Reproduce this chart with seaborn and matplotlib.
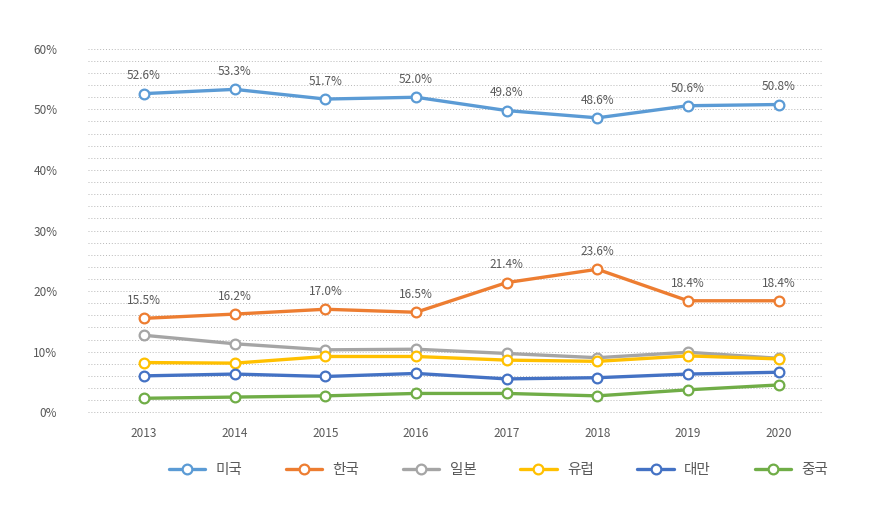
import pandas as pd
import seaborn as sns
import matplotlib.pyplot as plt
from matplotlib.ticker import MultipleLocator, FuncFormatter

# 연도 및 국가별 점유율 (%)
years = [2013, 2014, 2015, 2016, 2017, 2018, 2019, 2020]
countries = ['미국', '한국', '일본', '유럽', '대만', '중국']
usa = [52.6, 53.3, 51.7, 52.0, 49.8, 48.6, 50.6, 50.8]
korea = [15.5, 16.2, 17.0, 16.5, 21.4, 23.6, 18.4, 18.4]
japan = [12.7, 11.3, 10.3, 10.4, 9.7, 9.0, 9.9, 8.9]
europe = [8.2, 8.1, 9.2, 9.2, 8.6, 8.4, 9.3, 8.8]
taiwan = [6.0, 6.3, 5.9, 6.4, 5.5, 5.7, 6.3, 6.6]
china = [2.3, 2.5, 2.7, 3.1, 3.1, 2.7, 3.7, 4.5]
labeled = ['미국', '한국']

colors = ['#5B9BD5', '#ED7D31', '#A5A5A5', '#FFC000', '#4472C4', '#70AD47']
series = [usa, korea, japan, europe, taiwan, china]

rows = []
for name, vals in zip(countries, series):
    for i, (y, v) in enumerate(zip(years, vals)):
        rows.append({'idx': i, 'year': y, 'country': name, 'share': v})
df = pd.DataFrame(rows)

sns.set_style('white')
plt.rcParams['font.family'] = ['Noto Sans CJK KR', 'DejaVu Sans']

fig = plt.figure(figsize=(8.7, 5.19), dpi=100)
ax = fig.add_axes([0.101, 0.204, 0.844, 0.702])

sns.lineplot(data=df, x='idx', y='share', hue='country', hue_order=countries,
             palette=colors, marker='o', markersize=7, markerfacecolor='white',
             markeredgewidth=1.6, linewidth=2.4, ax=ax, zorder=3)

# 마커 테두리 색을 선 색과 맞춤
for line in ax.get_lines():
    line.set_markeredgecolor(line.get_color())
    line.set_clip_on(False)

# 데이터 레이블
for name in labeled:
    sub = df[df['country'] == name]
    for _, r in sub.iterrows():
        ax.annotate(f"{r['share']:.1f}%", (r['idx'], r['share']),
                    xytext=(0, 8), textcoords='offset points',
                    ha='center', va='bottom', fontsize=8.5, color='#595959')

ax.set_ylim(-0.15, 60)
ax.set_xlim(-0.62, 7.48)
ax.yaxis.set_major_locator(MultipleLocator(10))
ax.yaxis.set_minor_locator(MultipleLocator(2))
ax.yaxis.set_major_formatter(FuncFormatter(lambda v, p: f'{v:.0f}%'))
ax.grid(which='both', axis='y', color='#B8B8B8', linestyle=(0, (1, 2)), linewidth=0.7)
ax.tick_params(axis='y', which='both', length=0, labelsize=8.5, labelcolor='#595959', pad=22)
ax.set_xticks(range(len(years)))
ax.set_xticklabels([str(y) for y in years])
ax.tick_params(axis='x', length=0, labelsize=8.5, labelcolor='#595959', pad=10)
ax.set_xlabel('')
ax.set_ylabel('')
for s in ax.spines.values():
    s.set_visible(False)

handles, labels = ax.get_legend_handles_labels()
for h in handles:
    h.set_markeredgecolor(h.get_color())
ax.legend(handles, labels, loc='upper center', bbox_to_anchor=(0.559, -0.1), ncol=6,
          frameon=False, fontsize=10.5, handlelength=2.5, handletextpad=0.7,
          columnspacing=3.0, labelcolor='#595959')

fig.savefig('out.png', dpi=100)
